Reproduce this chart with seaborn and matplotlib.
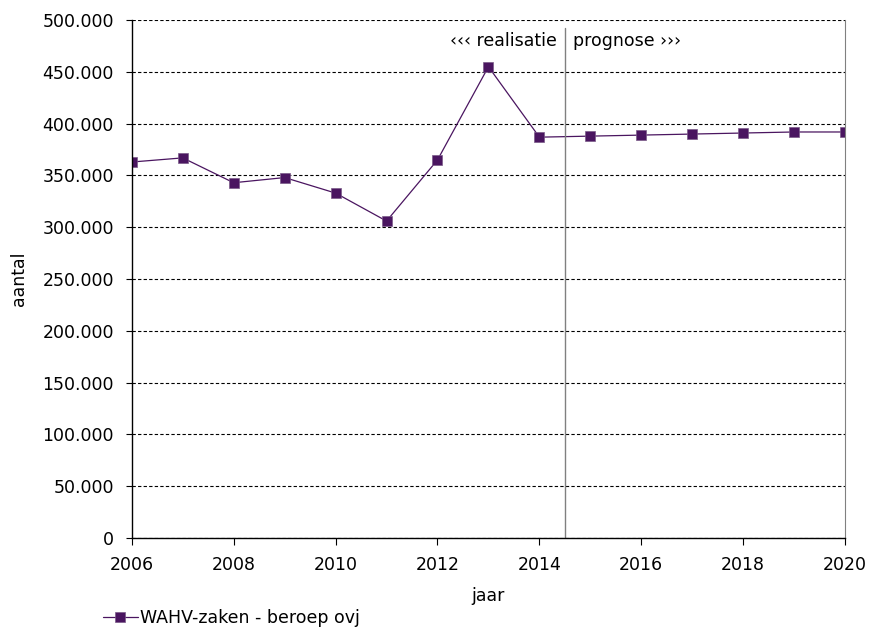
import numpy as np
import pandas as pd
import seaborn as sns
import matplotlib
matplotlib.use("Agg")
import matplotlib.pyplot as plt
from matplotlib.ticker import FuncFormatter

# data
years = [2006, 2007, 2008, 2009, 2010, 2011, 2012, 2013, 2014,
         2015, 2016, 2017, 2018, 2019, 2020]
aantal = [363000, 367000, 343000, 348000, 333000, 306000, 365000, 455000, 387000,
          388000, 389000, 390000, 391000, 392000, 392000]
series_name = 'WAHV-zaken - beroep ovj'
split_year = 2014.5

df = pd.DataFrame({'jaar': years, 'aantal': aantal, 'reeks': series_name})

sns.set_style("white")
plt.rcParams['font.family'] = ['DejaVu Sans']
plt.rcParams['text.color'] = 'black'
plt.rcParams['axes.labelcolor'] = 'black'
plt.rcParams['xtick.color'] = 'black'
plt.rcParams['ytick.color'] = 'black'
font_size = 12.5

fig = plt.figure(figsize=(8.73, 6.29), dpi=100)
ax = fig.add_axes([0.151, 0.1447, 0.817, 0.8233])

purple = '#4a1560'
sns.lineplot(data=df, x='jaar', y='aantal', hue='reeks', palette=[purple],
             marker='s', markersize=6.5, markeredgecolor='#7a5a88', markeredgewidth=0.5,
             linewidth=0.9, ax=ax)

ax.set_xlim(2006, 2020)
ax.set_ylim(0, 500000)
ax.set_xticks(range(2006, 2021, 2))
ax.set_yticks(range(0, 500001, 50000))
ax.yaxis.set_major_formatter(FuncFormatter(lambda v, p: f'{int(v):,}'.replace(',', '.')))

ax.yaxis.grid(True, linestyle=(0, (3, 2)), color='black', linewidth=0.8)
ax.xaxis.grid(False)
ax.set_axisbelow(True)

for s in ['left', 'bottom']:
    ax.spines[s].set_color('black')
    ax.spines[s].set_linewidth(1.0)
ax.spines['top'].set_visible(False)
ax.spines['right'].set_color('#808080')

ax.tick_params(axis='y', direction='out', length=4, width=0.8, labelsize=font_size,
               left=True, pad=9)
ax.tick_params(axis='x', direction='out', length=5, width=0.8, labelsize=font_size,
               bottom=True, pad=8)

ax.axvline(split_year, color='#808080', linewidth=1.0, ymin=0, ymax=0.985)
ax.text(split_year - 0.15, 480000, '‹‹‹ realisatie', ha='right', va='center', fontsize=font_size)
ax.text(split_year + 0.15, 480000, 'prognose ›››', ha='left', va='center', fontsize=font_size)

ax.set_xlabel('jaar', fontsize=font_size, labelpad=9)
ax.set_ylabel('aantal', fontsize=font_size, labelpad=10)

ax.legend(loc='upper left', bbox_to_anchor=(-0.055, -0.117), frameon=False,
          fontsize=font_size, handlelength=2.0, handletextpad=0.15,
          borderaxespad=0.2)

fig.savefig('out.png', dpi=100)
